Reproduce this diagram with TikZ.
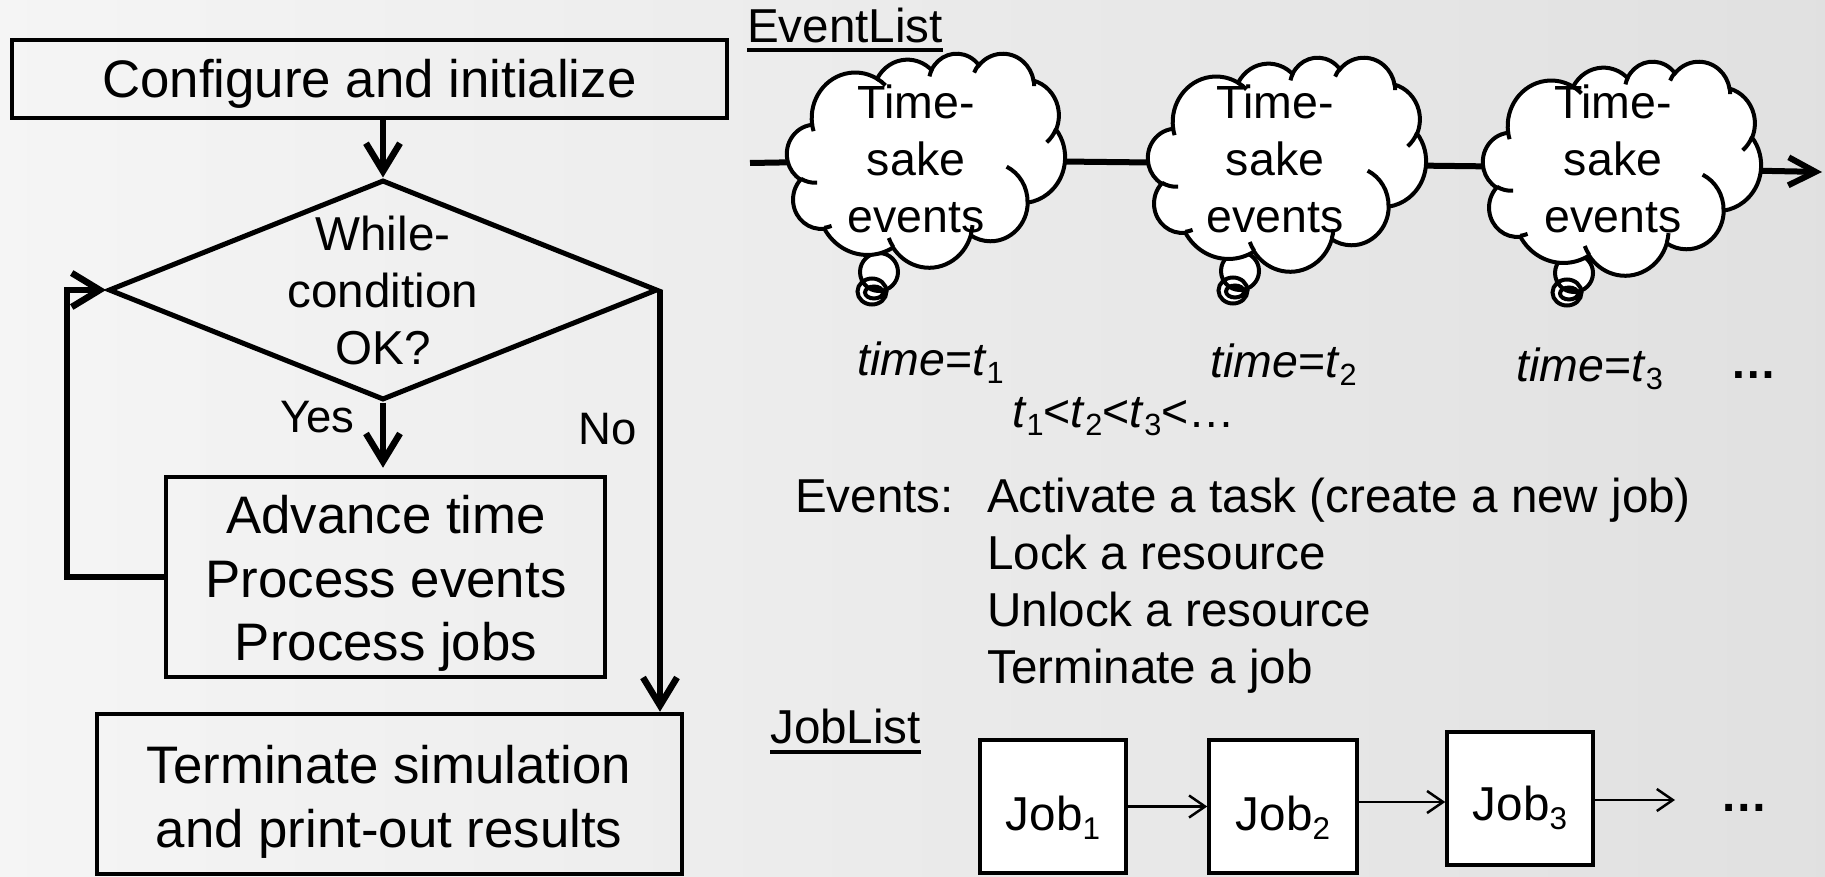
\documentclass[tikz,border=0pt]{standalone}
\usepackage{fontspec}
\setmainfont{Liberation Sans}
\usepackage{graphicx}
\usetikzlibrary{arrows.meta,shapes.geometric}

% visual (DrawingML) angle -> parametric ellipse angle, kept close to the input
\makeatletter
\pgfmathdeclarefunction{ooparam}{3}{%
  \begingroup
    \pgfmathparse{atan2((#2)*sin(#1),(#3)*cos(#1))-(#1)}%
    \pgfmathparse{(#1)+atan2(sin(\pgfmathresult),cos(\pgfmathresult))}%
    \pgfmath@smuggleone\pgfmathresult
  \endgroup}
\makeatother

% elliptic arc given by x radius, y radius, start angle, sweep (visual angles)
\newcommand\ooarc[4]{arc[x radius=#1,y radius=#2,start angle={ooparam(#3,#1,#2)},end angle={ooparam(#3+#4,#1,#2)}]}

% small lowered index
\newcommand\subidx[1]{\raisebox{-0.19em}{\scalebox{0.66}{#1}}}

\tikzset{
  bigtext/.style={font=\fontsize{52.8}{63.5}\selectfont, inner sep=0pt},
  midtext/.style={font=\fontsize{47.6}{57}\selectfont, inner sep=0pt},
  labeltext/.style={font=\fontsize{46.5}{57}\selectfont, inner sep=0pt},
  yesno/.style={font=\fontsize{45.5}{54}\selectfont, inner sep=0pt},
  cloudtext/.style={font=\fontsize{46.5}{57}\selectfont, inner sep=0pt, align=center},
  flowbox/.style={draw, rectangle, line width=4.5pt, inner sep=0pt},
  decision/.style={draw, diamond, line width=5pt, inner sep=0pt},
  flowline/.style={line width=6.5pt},
  flowarrow/.style={flowline, -{Straight Barb[length=28pt,width=34pt]}},
  cloudline/.style={line width=4pt},
  evline/.style={line width=6pt},
  jobbox/.style={draw, fill=white, line width=3.5pt, minimum width=146pt,
                 minimum height=133pt, inner sep=0pt},
  jobarrow/.style={line width=2.5pt, -{Straight Barb[length=16pt,width=22pt]}},
  listrule/.style={line width=4pt},
}

% thought cloud: #1 centre coordinate, #2 centre of the largest tail bubble
\newcommand\thoughtcloud[2]{%
  \begin{scope}[shift={(#2)}]
    \fill[white] (0,0) circle[radius=19]
      (-7,19.5) ellipse[x radius=14.5,y radius=13]
      (-5,20.5) ellipse[x radius=9,y radius=6];
    \draw[cloudline] (0,0) circle[radius=19]
      (-7,19.5) ellipse[x radius=14.5,y radius=13]
      (-5,20.5) ellipse[x radius=9,y radius=6];
  \end{scope}
  \begin{scope}[shift={(#1)},xscale=0.64352,yscale=0.49537,shift={(-216,-216)}]
    \draw[cloudline, fill=white] (39,143.7)
      \ooarc{67.53}{91.90}{-190.48748}{123.78053}
      \ooarc{53.33}{72.67}{-144.10238}{89.94523}
      \ooarc{43.65}{59.45}{-145.80792}{99.72302}
      \ooarc{48.57}{65.95}{-130.98607}{117.24173}
      \ooarc{53.33}{72.73}{-78.70888}{109.02692}
      \ooarc{67.75}{92.20}{-46.26725}{130.26900}
      \ooarc{57.85}{78.67}{0.62502}{114.03333}
      \ooarc{67.52}{92.15}{22.45160}{115.17255}
      \ooarc{77.20}{105.43}{66.24263}{75.71102}
      \ooarc{43.60}{59.18}{-274.94208}{146.73557}
      \ooarc{43.45}{59.45}{-246.82850}{152.51885}
      -- cycle;
    \draw[cloudline]
      (46.93,261.77) \ooarc{43.45}{59.45}{86.74200}{26.42950}
      (69.28,348.99) \ooarc{43.60}{59.18}{73.61047}{11.44747}
      (164.78,390.90) \ooarc{67.52}{92.15}{137.62415}{14.08110}
      (288.27,347.51) \ooarc{67.52}{92.15}{6.45327}{15.99835}
      (341.29,229.54) \ooarc{57.85}{78.67}{-70.29235}{70.91737}
      (417.98,153.54) \ooarc{53.33}{72.73}{30.31803}{27.75150}
      (383.24,54.26) \ooarc{48.57}{65.95}{-13.74433}{14.85890}
      (290.78,39.52) \ooarc{48.57}{65.95}{-149.18145}{18.19537}
      (221.41,47.20) \ooarc{43.65}{59.45}{-163.49427}{17.68635}
      (140.00,51.92) \ooarc{67.53}{91.90}{-66.70695}{12.31935}
      (41.27,157.89) \ooarc{67.53}{91.90}{157.65435}{11.85817};
  \end{scope}}

\begin{document}
\begin{tikzpicture}[x=1pt,y=-1pt]
\useasboundingbox (0,0) rectangle (1825,877);
\shade[left color=black!4, right color=black!12] (0,0) rectangle (1825,877);

% ---------------- flowchart ----------------
\node[flowbox, minimum width=715pt, minimum height=78pt] (cfg) at (369.5,79) {};
\node[decision, minimum width=549pt, minimum height=220pt] (dia) at (383,290) {};
\node[flowbox, minimum width=439pt, minimum height=200pt] (adv) at (385.5,577) {};
\node[flowbox, minimum width=585pt, minimum height=160pt] (term) at (389.5,794) {};

\node[bigtext, anchor=base] (cfgtxt) at (369.5,98) {Configure and initialize};
\node[midtext, align=center] (diatxt) at (383,290.4) {While-\\condition\\OK?};
\node[bigtext, align=center] (advtxt) at (386,583.4) {Advance time\\Process events\\Process jobs};
\node[bigtext, align=center] (termtxt) at (389,801.6) {Terminate simulation\\and print-out results};

\coordinate (loopx) at (67,577);
\draw[flowarrow] (dia.north |- cfg.south) -- (dia.north);
\draw[flowarrow, shorten >=7pt] (dia.south) -- (dia.south |- adv.north);
\draw[flowarrow] (adv.west) -- (loopx) |- (dia.west);
\draw[flowarrow] (dia.east) -- (dia.east |- term.north);

\node[yesno, anchor=base] (yes) at (317.5,432) {Yes};
\node[yesno, anchor=base] (no) at (608,444) {No};

% ---------------- event list ----------------
\node[midtext, anchor=base west] (evlist) at (747,43) {EventList};
\draw[listrule] ([yshift=-7.5pt]evlist.base west) -- ([yshift=-7.5pt]evlist.base east);

\coordinate (evstart) at (750,163);
\coordinate (evend) at (1822,172);
\coordinate (cl1) at (926,160);
\coordinate (cl2) at (1287,164);
\coordinate (cl3) at (1622,168);
\coordinate (tail1) at (879,272);
\coordinate (tail2) at (1240,271);
\coordinate (tail3) at (1574,273);

\draw[evline] (evstart) -- (cl1) -- (cl2) -- (cl3);
\draw[evline, -{Straight Barb[length=27pt,width=28pt]}] (cl3) -- (evend);

\thoughtcloud{cl1}{tail1}
\thoughtcloud{cl2}{tail2}
\thoughtcloud{cl3}{tail3}

\node[cloudtext] (ct1) at (916,158.6) {Time-\\sake\\events};
\node[cloudtext] (ct2) at (1275,158.6) {Time-\\sake\\events};
\node[cloudtext] (ct3) at (1613,158.6) {Time-\\sake\\events};

\node[labeltext, anchor=base west] (tm1) at (857,375) {\textit{time}=\textit{t}\subidx{1}};
\node[labeltext, anchor=base west] (tm2) at (1210,377) {\textit{time}=\textit{t}\subidx{2}};
\node[labeltext, anchor=base west] (tm3) at (1516,381) {\textit{time}=\textit{t}\subidx{3}};
\node[labeltext, anchor=base west] (tmdots) at (1730,378) {\textbf{…}};
\node[labeltext, anchor=base west] (order) at (1012,427)
  {\textit{t}\subidx{1}<\textit{t}\subidx{2}<\textit{t}\subidx{3}<…};

\node[midtext, anchor=base west] (evhead) at (795,512) {Events:};
\node[midtext, anchor=base west] (ev1) at (987,512) {Activate a task (create a new job)};
\node[midtext, anchor=base west] (ev2) at (987,569) {Lock a resource};
\node[midtext, anchor=base west] (ev3) at (987,626) {Unlock a resource};
\node[midtext, anchor=base west] (ev4) at (987,683) {Terminate a job};

% ---------------- job list ----------------
\node[midtext, anchor=base west] (joblist) at (770,743) {JobList};
\draw[listrule] ([yshift=-8.5pt]joblist.base west) -- ([yshift=-8.5pt]joblist.base east);

\node[jobbox] (j1) at (1053,806.5) {};
\node[jobbox, minimum width=148pt] (j2) at (1283,806.5) {};
\node[jobbox] (j3) at (1520,798.5) {};
\node[midtext, anchor=base] (j1txt) at (1053,830) {Job\subidx{1}};
\node[midtext, anchor=base] (j2txt) at (1283,830) {Job\subidx{2}};
\node[midtext, anchor=base] (j3txt) at (1520,820) {Job\subidx{3}};

\coordinate (jend) at (1675,800);
\draw[jobarrow] (j1.east) -- (j2.west);
\draw[jobarrow] ([yshift=4.5pt]j2.east) -- ([yshift=-3.5pt]j3.west);
\draw[jobarrow] ([yshift=-1.5pt]j3.east) -- (jend);
\node[midtext, anchor=base west] (jdots) at (1720,811) {\textbf{…}};
\end{tikzpicture}
\end{document}
